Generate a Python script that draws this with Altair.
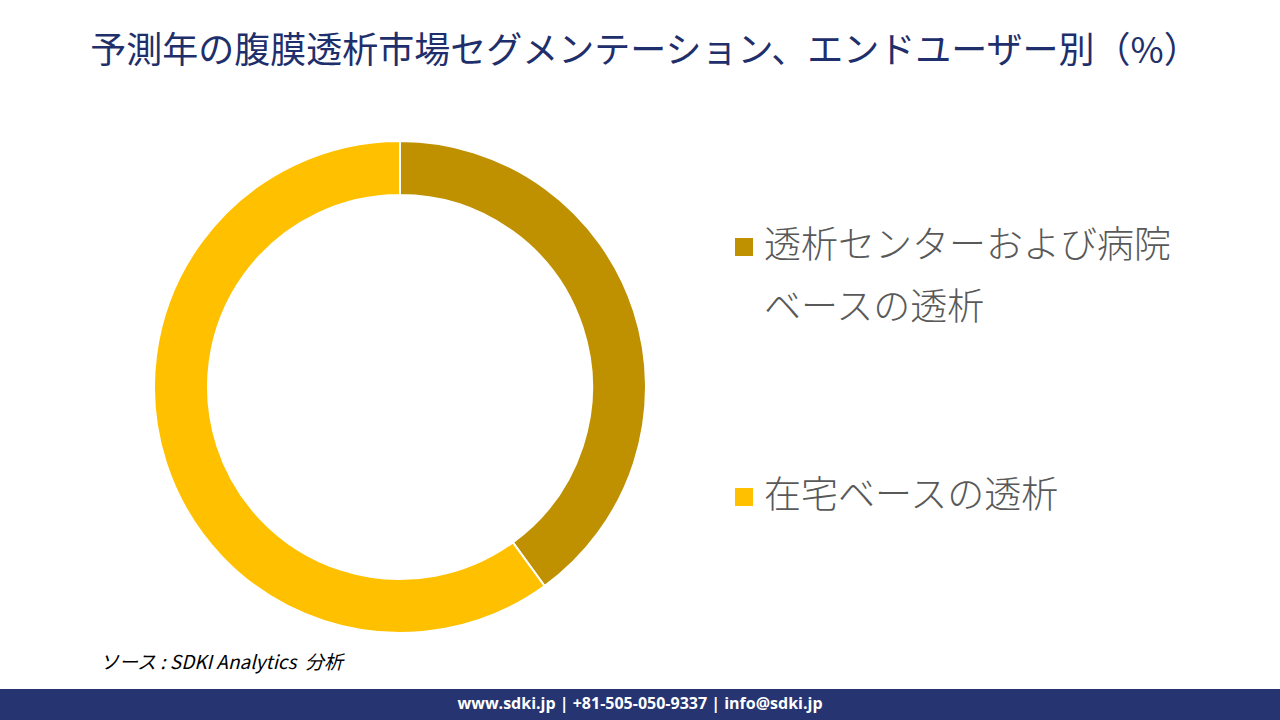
import altair as alt
import pandas as pd

# Data
categories = ["透析センターおよび病院ベースの透析", "在宅ベースの透析"]
legend_labels = ["透析センターおよび病院\nベースの透析", "在宅ベースの透析"]
shares = [40, 60]
colors = ["#BF9000", "#FFC000"]
order = [1, 2]

title_text = "予測年の腹膜透析市場セグメンテーション、エンドユーザー別（%）"
source_text = "ソース : SDKI Analytics\u00a0\u00a0分析"
footer_text = "www.sdki.jp | +81-505-050-9337 | info@sdki.jp"

df = pd.DataFrame({"category": categories, "share": shares, "order": order,
                   "label": legend_labels})
legend_y = [247, 497]
df["ly"] = legend_y

W, H = 1280, 720
FONT = "Noto Sans CJK JP"

color_scale = alt.Scale(domain=categories, range=colors)

base = alt.Chart(df)

donut = base.mark_arc(outerRadius=246, innerRadius=192, stroke="white", strokeWidth=2).encode(
    theta=alt.Theta("share:Q", stack=True),
    order=alt.Order("order:Q"),
    color=alt.Color("category:N", scale=color_scale, legend=None),
    x=alt.value(400),
    y=alt.value(387),
)

legend_sq = base.mark_square(size=324, opacity=1).encode(
    x=alt.value(744),
    y=alt.Y("ly:Q", scale=alt.Scale(domain=[0, H], range=[0, H]), axis=None),
    color=alt.Color("category:N", scale=color_scale, legend=None),
)

legend_txt = base.mark_text(
    align="left", baseline="middle", font=FONT, fontSize=37, fontWeight=300,
    color="#595959", lineBreak="\n", lineHeight=62
).encode(
    x=alt.value(764),
    y=alt.Y("ly:Q", scale=alt.Scale(domain=[0, H], range=[0, H]), axis=None),
    text="label:N",
)

title_df = pd.DataFrame({"t": [title_text]})
title = alt.Chart(title_df).mark_text(
    align="center", baseline="middle", font=FONT, fontSize=36, color="#1F2F6B"
).encode(x=alt.value(645), y=alt.value(52), text="t:N")

source_df = pd.DataFrame({"t": [source_text]})
source = alt.Chart(source_df).mark_text(
    align="left", baseline="middle", font=FONT, fontSize=19, fontStyle="italic", color="#000000"
).encode(x=alt.value(100), y=alt.value(663), text="t:N")

bar_df = pd.DataFrame({"a": [0]})
footer_bar = alt.Chart(bar_df).mark_rect(color="#263571").encode(
    x=alt.value(0), x2=alt.value(W), y=alt.value(689), y2=alt.value(H)
)

footer_df = pd.DataFrame({"t": [footer_text]})
footer = alt.Chart(footer_df).mark_text(
    align="center", baseline="middle", font="Open Sans", fontSize=16, fontWeight="bold", color="white"
).encode(x=alt.value(640), y=alt.value(704), text="t:N")

chart = alt.layer(donut, legend_sq, legend_txt, title, source, footer_bar, footer).properties(
    width=W, height=H, padding=0, autosize=alt.AutoSizeParams(type="none"),
    background="white"
).configure_view(stroke=None)

chart.save("out.html", embed_options={"renderer": "svg", "actions": False})
